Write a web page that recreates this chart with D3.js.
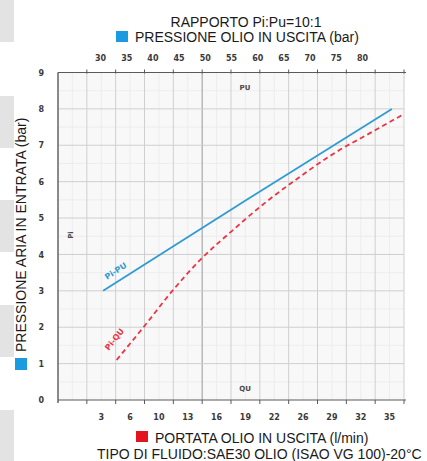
<!DOCTYPE html>
<html>
<head>
<meta charset="utf-8">
<script src="https://cdn.jsdelivr.net/npm/d3@7"></script>
<style>
html, body { margin: 0; padding: 0; background: #fff; }
#chart-container { width: 427px; height: 461px; overflow: hidden; }
text { font-family: "Liberation Sans", Arial, sans-serif; }
</style>
</head>
<body>
<div id="chart-container"></div>
<script>
// values
const airTicks = [0, 1, 2, 3, 4, 5, 6, 7, 8, 9];
const flowLabels = [3, 6, 10, 13, 16, 19, 22, 26, 29, 32, 35];
const oilPressureLabels = [30, 35, 40, 45, 50, 55, 60, 65, 70, 75, 80];

// Pi-PU (blue): oil pressure out (bar) vs air pressure in (bar)
const puOil = [30.6, 58, 85.7];
const puAir = [3.0, 5.5, 8.0];

// Pi-QU (red dashed): oil flow out (l/min) vs air pressure in (bar)
const quFlow = [4.6, 8.1, 11.4, 14.3, 17.7, 21.0, 24.9, 29.3, 33.0, 36.5];
const quAir = [1.1, 2.06, 3.0, 3.85, 4.67, 5.41, 6.04, 6.79, 7.34, 7.86];

const W = 427, H = 461;
const plot = { left: 58, right: 404, top: 72.5, bottom: 400 };

const svg = d3.select("#chart-container")
    .append("svg")
    .attr("width", W)
    .attr("height", H);

// grey page strips on the left edge
[[0, 42], [96, 148], [200, 252], [305, 357], [410, 461]].forEach(s => {
    svg.append("rect")
        .attr("x", 0).attr("y", s[0])
        .attr("width", 14).attr("height", s[1] - s[0])
        .attr("fill", "#e3e3e3");
});

// scales
const cells = d3.scaleBand()
    .domain([""].concat(flowLabels.map(String)))
    .range([plot.left, plot.right]);
const bw = cells.bandwidth();
const cellEdges = cells.domain().map(d => cells(d)).concat([plot.right]);

const xFlow = d3.scaleLinear()
    .domain(flowLabels)
    .range(flowLabels.map(d => cells(String(d)) + bw / 2));

const xOil = d3.scaleLinear()
    .domain([30, 80])
    .range([100, 362]);

const y = d3.scaleLinear()
    .domain([0, 9])
    .range([plot.bottom, plot.top]);

// plot background
svg.append("rect")
    .attr("x", plot.left).attr("y", plot.top)
    .attr("width", plot.right - plot.left)
    .attr("height", plot.bottom - plot.top)
    .attr("fill", "#f8f8f8");

// minor grid
const grid = svg.append("g");
cellEdges.slice(0, -1).forEach(x => {
    grid.append("line")
        .attr("x1", x + bw / 2).attr("x2", x + bw / 2)
        .attr("y1", plot.top).attr("y2", plot.bottom)
        .attr("stroke", "#ebebeb").attr("stroke-width", 0.8);
});
airTicks.slice(0, -1).forEach(v => {
    grid.append("line")
        .attr("x1", plot.left).attr("x2", plot.right)
        .attr("y1", y(v + 0.5)).attr("y2", y(v + 0.5))
        .attr("stroke", "#ebebeb").attr("stroke-width", 0.8);
});

// major grid
cellEdges.slice(1).forEach((x, i) => {
    grid.append("line")
        .attr("x1", x).attr("x2", x)
        .attr("y1", plot.top).attr("y2", plot.bottom)
        .attr("stroke", i === 4 ? "#9a9a9a" : "#cfcfcf")
        .attr("stroke-width", 1);
});
airTicks.slice(1).forEach(v => {
    grid.append("line")
        .attr("x1", plot.left).attr("x2", plot.right)
        .attr("y1", y(v)).attr("y2", y(v))
        .attr("stroke", "#cfcfcf").attr("stroke-width", 1);
});

// axes
const tickFont = g => g.selectAll("text")
    .style("font-family", "'DejaVu Sans', sans-serif")
    .style("font-size", "8px")
    .style("font-weight", "bold")
    .attr("fill", "#3a3a3a");

svg.append("g")
    .attr("transform", `translate(0,${plot.bottom})`)
    .call(d3.axisBottom(cells).tickSize(0).tickPadding(14).tickFormat(d => d))
    .call(g => g.select(".domain").remove())
    .call(tickFont);

svg.append("g")
    .attr("transform", `translate(0,${plot.top})`)
    .call(d3.axisTop(xOil).tickValues(oilPressureLabels).tickSize(0).tickPadding(12))
    .call(g => g.select(".domain").remove())
    .call(tickFont);

svg.append("g")
    .attr("transform", `translate(${plot.left},0)`)
    .call(d3.axisLeft(y).tickValues(airTicks).tickSize(0).tickPadding(14))
    .call(g => g.select(".domain").remove())
    .call(tickFont);

// frame lines and tick marks
const frame = svg.append("g").attr("stroke", "#5a5a5a");
frame.append("line")
    .attr("x1", plot.left).attr("x2", plot.right + 2)
    .attr("y1", plot.top).attr("y2", plot.top).attr("stroke-width", 1.2);
frame.append("line")
    .attr("x1", plot.left).attr("x2", plot.right + 2)
    .attr("y1", plot.bottom).attr("y2", plot.bottom).attr("stroke-width", 1.2);
frame.append("line")
    .attr("x1", plot.left).attr("x2", plot.left)
    .attr("y1", plot.top).attr("y2", plot.bottom + 3).attr("stroke-width", 1.4);
cellEdges.slice(1).forEach(x => {
    frame.append("line")
        .attr("x1", x).attr("x2", x)
        .attr("y1", plot.top - 3).attr("y2", plot.top + 1);
    frame.append("line")
        .attr("x1", x).attr("x2", x)
        .attr("y1", plot.bottom).attr("y2", plot.bottom + 4);
});

// small labels inside the plot
const small = (x, yy, t, rot) => svg.append("text")
    .attr("transform", `translate(${x},${yy})` + (rot ? ` rotate(${rot})` : ""))
    .attr("text-anchor", "middle")
    .style("font-family", "'DejaVu Sans', sans-serif")
    .style("font-size", "7px")
    .style("font-weight", "bold")
    .attr("fill", "#4a4a4a")
    .text(t);
small(245, 90, "PU");
small(245, 391, "QU");
small(73, 235, "Pi", -90);

// curves
const lineOil = d3.line()
    .x(d => xOil(d[0]))
    .y(d => y(d[1]));
const lineFlow = d3.line()
    .x(d => xFlow(d[0]))
    .y(d => y(d[1]))
    .curve(d3.curveMonotoneX);

svg.append("path")
    .datum(puOil.map((v, i) => [v, puAir[i]]))
    .attr("d", lineOil)
    .attr("fill", "none")
    .attr("stroke", "#2f9bd3")
    .attr("stroke-width", 1.8);

svg.append("path")
    .datum(quFlow.map((v, i) => [v, quAir[i]]))
    .attr("d", lineFlow)
    .attr("fill", "none")
    .attr("stroke", "#ec3444")
    .attr("stroke-width", 1.8)
    .attr("stroke-dasharray", "5,3.5");

// curve names
svg.append("text")
    .attr("transform", `translate(${xOil(33.3)},${y(3.48)}) rotate(-33)`)
    .attr("text-anchor", "middle")
    .style("font-family", "'DejaVu Sans', sans-serif")
    .style("font-size", "8px")
    .style("font-weight", "bold")
    .attr("fill", "#2f9bd3")
    .text("Pi-PU");
svg.append("text")
    .attr("transform", `translate(${xFlow(4.6)},${y(1.62)}) rotate(-52)`)
    .attr("text-anchor", "middle")
    .style("font-family", "'DejaVu Sans', sans-serif")
    .style("font-size", "8px")
    .style("font-weight", "bold")
    .attr("fill", "#ec3444")
    .text("Pi-QU");

// titles
const title = (x, yy, t, anchor) => svg.append("text")
    .attr("x", x).attr("y", yy)
    .attr("text-anchor", anchor || "start")
    .style("font-size", "14px")
    .attr("fill", "#1a1a1a")
    .text(t);

title(246, 27, "RAPPORTO Pi:Pu=10:1", "middle");
svg.append("rect").attr("x", 116).attr("y", 31).attr("width", 12).attr("height", 11).attr("fill", "#1a9be0");
title(135, 42, "PRESSIONE OLIO IN USCITA (bar)");

svg.append("rect").attr("x", 136).attr("y", 431).attr("width", 12).attr("height", 11).attr("fill", "#e3141e");
title(155, 443, "PORTATA OLIO IN USCITA (l/min)");
title(97, 459, "TIPO DI FLUIDO:SAE30 OLIO (ISAO VG 100)-20°C");

svg.append("rect").attr("x", 15).attr("y", 358).attr("width", 12).attr("height", 12).attr("fill", "#1a9be0");
svg.append("text")
    .attr("transform", "translate(26,352) rotate(-90)")
    .style("font-size", "14px")
    .attr("fill", "#1a1a1a")
    .text("PRESSIONE ARIA IN ENTRATA (bar)");
</script>
</body>
</html>
